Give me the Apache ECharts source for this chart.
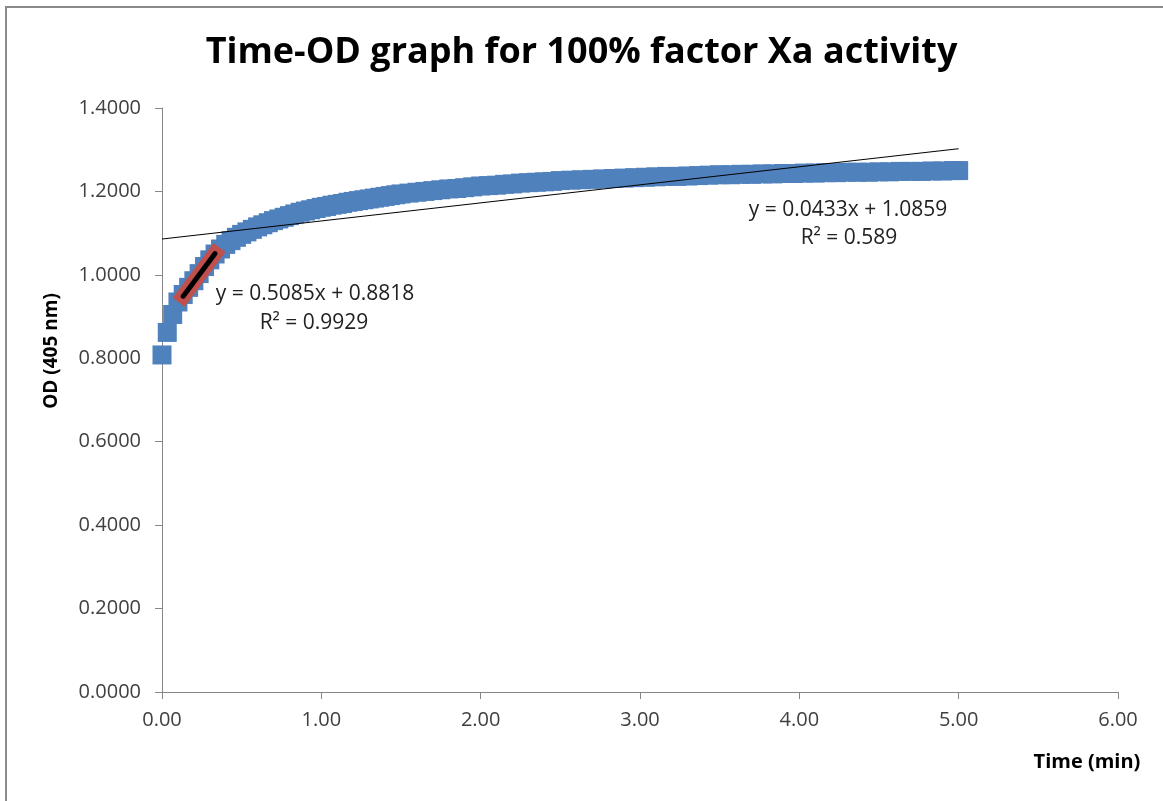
<!DOCTYPE html>
<html>
<head>
<meta charset="utf-8">
<script src="https://cdn.jsdelivr.net/npm/echarts@6/dist/echarts.min.js"></script>
<style>
html,body{margin:0;padding:0;background:#fff;}
#chart{width:1163px;height:801px;}
</style>
</head>
<body>
<div id="chart"></div>
<script>
// ---- data ----
const times = [
  0, 0.033, 0.067, 0.1, 0.133, 0.167, 0.2, 0.233, 0.267, 0.3, 0.333, 0.367, 0.4, 0.433, 0.467, 0.5,
  0.533, 0.567, 0.6, 0.633, 0.667, 0.7, 0.733, 0.767, 0.8, 0.833, 0.867, 0.9, 0.933, 0.967, 1.0,
  1.033, 1.067, 1.1, 1.133, 1.167, 1.2, 1.233, 1.267, 1.3, 1.333, 1.367, 1.4, 1.433, 1.467, 1.5,
  1.55, 1.6, 1.65, 1.7, 1.75, 1.8, 1.85, 1.9, 1.95, 2.0, 2.05, 2.1, 2.15, 2.2, 2.25, 2.3, 2.35, 2.4, 2.45, 2.5,
  2.567, 2.633, 2.7, 2.767, 2.833, 2.9, 2.967, 3.033, 3.1, 3.167, 3.233, 3.3, 3.367, 3.433, 3.5,
  3.567, 3.633, 3.7, 3.767, 3.833, 3.9, 3.967, 4.033, 4.1, 4.167, 4.233, 4.3, 4.367, 4.433, 4.5,
  4.567, 4.633, 4.7, 4.767, 4.833, 4.9, 4.967, 5.0];
const od = [
  0.808, 0.862, 0.905, 0.935, 0.953, 0.970, 0.986, 1.003, 1.020, 1.036, 1.050, 1.062, 1.073, 1.082, 1.090, 1.097,
  1.103, 1.109, 1.115, 1.120, 1.125, 1.130, 1.134, 1.138, 1.142, 1.146, 1.150, 1.153, 1.156, 1.159, 1.162,
  1.164, 1.167, 1.169, 1.171, 1.174, 1.176, 1.178, 1.180, 1.182, 1.184, 1.186, 1.188, 1.190, 1.192, 1.194,
  1.196, 1.198, 1.200, 1.202, 1.204, 1.206, 1.207, 1.209, 1.211, 1.213, 1.214, 1.215, 1.217, 1.218, 1.220, 1.221, 1.222, 1.223, 1.224, 1.226,
  1.227, 1.228, 1.229, 1.230, 1.231, 1.232, 1.233, 1.234, 1.235, 1.236, 1.236, 1.237, 1.238, 1.239, 1.240,
  1.240, 1.241, 1.241, 1.242, 1.242, 1.243, 1.243, 1.244, 1.244, 1.245, 1.245, 1.246, 1.246, 1.246, 1.247,
  1.247, 1.248, 1.248, 1.248, 1.249, 1.249, 1.250, 1.250];
// initial-rate fit segment (y = 0.5085x + 0.8818)
const fitX = [0.133, 0.333];
const fitY = [0.949, 1.051];
// overall linear trend (y = 0.0433x + 1.0859)
const trendX = [0, 5.0];
const trendY = [1.0859, 1.3024];
const titleText = 'Time-OD graph for 100% factor Xa activity';
const xName = 'Time (min)';
const yName = 'OD (405 nm)';
const eq1 = ['y = 0.5085x + 0.8818', 'R² = 0.9929'];
const eq2 = ['y = 0.0433x + 1.0859', 'R² = 0.589'];

const pts = times.map((t, i) => [t, od[i]]);
const fitPts = fitX.map((x, i) => [x, fitY[i]]);
const trendPts = trendX.map((x, i) => [x, trendY[i]]);

const chart = echarts.init(document.getElementById('chart'));
const labelFont = 'Open Sans';
const txtColor = '#404040';
const annFont = '21px "Open Sans"';
chart.setOption({
  animation: false,
  backgroundColor: '#fff',
  title: {
    text: titleText, left: 'center', top: 30,
    textStyle: {fontFamily: 'Open Sans', fontWeight: 'bold', fontSize: 36, color: '#000'}
  },
  grid: {left: 162, right: 45, top: 108, bottom: 109},
  xAxis: {
    type: 'value', min: 0, max: 6, interval: 1,
    axisLine: {show: true, lineStyle: {color: '#868686', width: 1}},
    axisTick: {show: true, length: 7, lineStyle: {color: '#868686'}},
    splitLine: {show: false},
    axisLabel: {formatter: v => v.toFixed(2), fontFamily: labelFont, fontSize: 20, color: txtColor, margin: 18}
  },
  yAxis: {
    type: 'value', min: 0, max: 1.4, interval: 0.2,
    axisLine: {show: true, lineStyle: {color: '#868686', width: 1}},
    axisTick: {show: true, length: 7, lineStyle: {color: '#868686'}},
    splitLine: {show: false},
    axisLabel: {formatter: v => v.toFixed(4), fontFamily: labelFont, fontSize: 20, color: txtColor, margin: 21}
  },
  graphic: [
    {type: 'rect', shape: {x: 6, y: 7, width: 1300, height: 1000}, style: {fill: 'none', stroke: '#8a8a8a', lineWidth: 2}, silent: true, z: -1},
    {type: 'text', style: {text: yName, font: 'bold 19px "Open Sans"', fill: '#000', textAlign: 'center', textVerticalAlign: 'middle'}, x: 52, y: 351, rotation: Math.PI / 2},
    {type: 'text', style: {text: xName, font: 'bold 20px "Open Sans"', fill: '#000', textAlign: 'center', textVerticalAlign: 'middle'}, x: 1087, y: 762},
    {type: 'text', style: {text: eq1[0], font: annFont, fill: '#222', textAlign: 'center', textVerticalAlign: 'middle'}, x: 315, y: 294},
    {type: 'text', style: {text: eq1[1], font: annFont, fill: '#222', textAlign: 'center', textVerticalAlign: 'middle'}, x: 314, y: 323},
    {type: 'text', style: {text: eq2[0], font: annFont, fill: '#222', textAlign: 'center', textVerticalAlign: 'middle'}, x: 848, y: 210},
    {type: 'text', style: {text: eq2[1], font: annFont, fill: '#222', textAlign: 'center', textVerticalAlign: 'middle'}, x: 849, y: 238}
  ],
  series: [
    {type: 'scatter', data: pts, symbol: 'rect', symbolSize: 19, itemStyle: {color: '#4F81BD', opacity: 1}, z: 2},
    {type: 'line', data: fitPts, symbol: 'none', lineStyle: {color: '#C0504D', width: 15, cap: 'square'}, z: 3},
    {type: 'line', data: fitPts, symbol: 'none', lineStyle: {color: '#000', width: 5, cap: 'round'}, z: 4},
    {type: 'line', data: trendPts, symbol: 'none', lineStyle: {color: '#000', width: 1}, z: 5}
  ]
});
</script>
</body>
</html>
